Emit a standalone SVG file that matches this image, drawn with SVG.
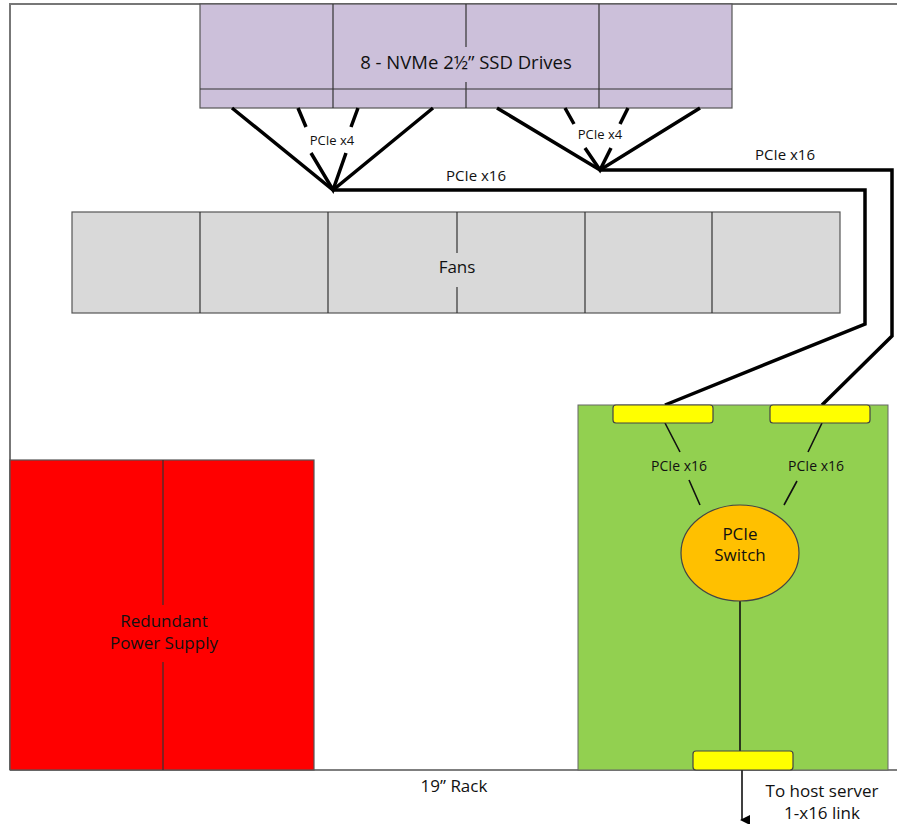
<svg xmlns="http://www.w3.org/2000/svg" width="897" height="824" viewBox="0 0 897 824">
<defs>
<style>
text{font-family:"Open Sans","Liberation Sans",sans-serif;fill:#111;text-anchor:middle}
.box{stroke:#555;stroke-width:1.2}
.div{stroke:#333;stroke-width:1.2;fill:none}
.thick{stroke:#000;stroke-width:3.5;fill:none;stroke-linejoin:miter}
.thin{stroke:#111;stroke-width:1.6;fill:none}
.conn{fill:#ffff00;stroke:#444;stroke-width:1.2}
</style>
<marker id="arr" markerWidth="10" markerHeight="10" refX="5" refY="8" orient="auto" markerUnits="userSpaceOnUse" viewBox="0 0 10 10">
<path d="M0,0 L10,0 L5,10 Z" fill="#000"/>
</marker>
</defs>
<rect width="897" height="824" fill="#fff"/>
<g id="rack">
<path d="M10,770 L10,4 L897,4" fill="none" stroke="#777" stroke-width="2"/>
<line x1="10" y1="770" x2="897" y2="770" stroke="#555" stroke-width="1.5"/>
<text x="454" y="792" font-size="17">19” Rack</text>
</g>
<g id="ssd">
<rect class="box" x="200" y="4" width="532" height="104" fill="#ccc0da"/>
<line class="div" x1="200" y1="89" x2="732" y2="89"/>
<line class="div" x1="333" y1="4" x2="333" y2="108"/>
<line class="div" x1="466" y1="4" x2="466" y2="47"/>
<line class="div" x1="466" y1="82" x2="466" y2="108"/>
<line class="div" x1="599" y1="4" x2="599" y2="108"/>
<text x="466" y="69" font-size="18.5">8 - NVMe 2½” SSD Drives</text>
</g>
<g id="fans">
<rect class="box" x="72" y="212" width="768" height="101" fill="#d9d9d9"/>
<line class="div" x1="200" y1="212" x2="200" y2="313"/>
<line class="div" x1="328" y1="212" x2="328" y2="313"/>
<line class="div" x1="457" y1="212" x2="457" y2="253"/>
<line class="div" x1="457" y1="287" x2="457" y2="313"/>
<line class="div" x1="585" y1="212" x2="585" y2="313"/>
<line class="div" x1="712" y1="212" x2="712" y2="313"/>
<text x="457" y="273" font-size="17">Fans</text>
</g>
<g id="psu">
<rect class="box" x="10" y="460" width="304" height="310" fill="#ff0000"/>
<line class="div" x1="163" y1="460" x2="163" y2="605"/>
<line class="div" x1="163" y1="662" x2="163" y2="770"/>
<text x="164" y="627" font-size="17">Redundant</text>
<text x="164" y="649" font-size="17">Power Supply</text>
</g>
<g id="board">
<rect x="578" y="405" width="310" height="365" fill="#92d050" stroke="#666" stroke-width="1"/>
</g>
<g id="connectors">
<path class="thick" d="M232,108 L333,190 L433,108"/>
<path class="thick" d="M298,108 L306,127 M311,153 L333,190 L346,153 M351,127 L358,108"/>
<path class="thick" d="M497,108 L600,170 L700,108"/>
<path class="thick" d="M565,108 L574,124 M585,148 L600,170 L611,148 M620,124 L628,108"/>
<path class="thick" d="M333,190 L865,190 L865,324 L665,405"/>
<path class="thick" d="M600,170 L892,170 L892,336 L822,405"/>
<path class="thin" d="M665,423 L680,452 M689,480 L700,505"/>
<path class="thin" d="M822,423 L808,452 M797,481 L784,505"/>
<line class="thin" x1="740" y1="601" x2="740" y2="751"/>
<line x1="742" y1="770" x2="742" y2="820" stroke="#000" stroke-width="1.5" marker-end="url(#arr)"/>
<text x="332" y="145" font-size="13">PCIe x4</text>
<text x="600" y="139" font-size="13">PCIe x4</text>
<text x="476" y="181" font-size="15">PCIe x16</text>
<text x="785" y="160" font-size="15">PCIe x16</text>
<text x="679" y="471" font-size="14">PCIe x16</text>
<text x="816" y="471" font-size="14">PCIe x16</text>
<text x="822" y="797" font-size="17">To host server</text>
<text x="822" y="819" font-size="17">1-x16 link</text>
</g>
<g id="conn1"><rect class="conn" x="613" y="405" width="100" height="18" rx="3"/></g>
<g id="conn2"><rect class="conn" x="770" y="405" width="100" height="18" rx="3"/></g>
<g id="conn3"><rect class="conn" x="693" y="751" width="100" height="19" rx="3"/></g>
<g id="switch">
<ellipse cx="740" cy="553" rx="59" ry="48" fill="#ffc000" stroke="#444" stroke-width="1.2"/>
<text x="740" y="540" font-size="17">PCIe</text>
<text x="740" y="561" font-size="17">Switch</text>
</g>
</svg>
